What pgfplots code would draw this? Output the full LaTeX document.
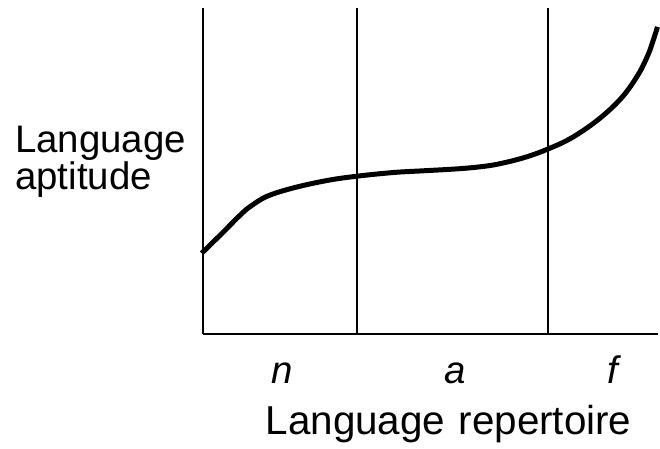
\documentclass[border=0pt]{standalone}
\usepackage{fontspec}
\setmainfont{Liberation Sans}
\usepackage{pgfplots}
\pgfplotsset{compat=1.18}
\newcommand{\bigtext}{\fontsize{38.5}{38.5}\selectfont}

\begin{document}
\begin{tikzpicture}
\begin{axis}[
    x=1pt, y=1pt,
    xmin=204, xmax=660,
    ymin=0, ymax=327,
    axis x line*=bottom,
    axis y line*=left,
    axis line style={line width=2pt, black},
    xtick=\empty, ytick=\empty,
    clip=false,
]
% region boundaries
\addplot[black, line width=2pt] coordinates {(357.7,0) (357.7,327)};
\addplot[black, line width=2pt] coordinates {(550,0) (550,327)};
% aptitude curve
\addplot[black, line width=5pt, smooth, tension=0.6] coordinates {
    (202.3,81) (221.7,100) (241.7,120) (251.7,128.3) (268.3,138.3)
    (295,146.7) (328.3,154) (358.3,158.3) (395,162) (423,163.6)
    (456.7,165.5) (480,167.5) (500,170.5) (526.7,177.2) (550,185.7) (573.3,196.7)
    (600,215) (623.3,236.7) (640,260) (650,280) (655,294) (659.5,308)
};
% bounding box of the 660x450 canvas
\path (axis cs:0,335) rectangle (axis cs:660,-115);
\node[anchor=base west, inner sep=0pt, font=\bigtext] at (axis cs:15,182) {Language};
\node[anchor=base west, inner sep=0pt, font=\bigtext] at (axis cs:15,145) {aptitude};
\node[anchor=base, inner sep=0pt, font=\bigtext\itshape] at (axis cs:283,-50) {n};
\node[anchor=base, inner sep=0pt, font=\bigtext\itshape] at (axis cs:457,-50) {a};
\node[anchor=base, inner sep=0pt, font=\bigtext\itshape] at (axis cs:615,-50) {f};
\node[anchor=base, inner sep=0pt, font=\fontsize{40.5}{40.5}\selectfont] at (axis cs:450,-101) {Language\hspace{0.33em}repertoire};
\end{axis}
\end{tikzpicture}
\end{document}
